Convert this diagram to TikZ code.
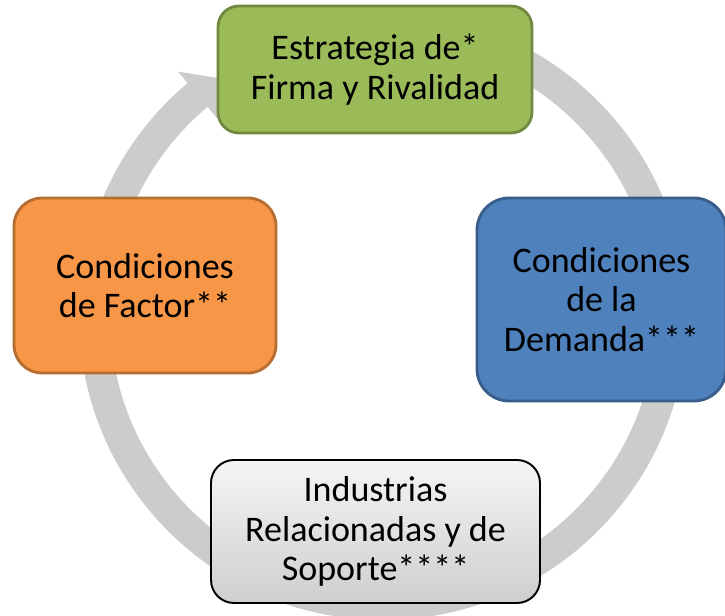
\documentclass[tikz,border=0pt]{standalone}
\usepackage{fontspec}
\setmainfont{Carlito}
\usetikzlibrary{calc}

\definecolor{ringgray}{HTML}{CCCCCC}
\definecolor{firmgreen}{HTML}{9BBB59}
\definecolor{firmgreenline}{HTML}{71893F}
\definecolor{demandblue}{HTML}{4F81BD}
\definecolor{demandblueline}{HTML}{385D8A}
\definecolor{factororange}{HTML}{F79646}
\definecolor{factororangeline}{HTML}{B66D31}

\tikzset{
	stagebox/.style={rectangle, rounded corners=#1, line width=1.6pt, align=center,
		inner sep=0pt, font=\fontsize{20.5}{22.5}\selectfont},
}

\begin{document}
\begin{tikzpicture}
	%%%%% START %%%%%
	
	\useasboundingbox (0, 0) rectangle (14.5, 12.3);
	\coordinate (ctr) at (7.66, 5.98);
	
	% cycle arrow
	\draw[line width=0.62cm, color=ringgray] ($(ctr)+(90:5.77)$) arc (90:-231:5.77);
	\fill[ringgray] ($(ctr)+(130:5.16)$) -- ($(ctr)+(130:6.38)$) -- ($(ctr)+(124.5:5.77)$) -- cycle;
	
	% stages
	\node[stagebox=0.42cm, fill=firmgreen, draw=firmgreenline, minimum width=6.28cm, minimum height=2.54cm]
		(estrategia) at (7.50, 10.91) {Estrategia de*\\Firma y Rivalidad};
	\node[stagebox=0.64cm, fill=demandblue, draw=demandblueline, minimum width=4.98cm, minimum height=4.06cm]
		(demanda) at (12.03, 6.31) {Condiciones\\de la\\Demanda***};
	\node[stagebox=0.56cm, fill=factororange, draw=factororangeline, minimum width=5.24cm, minimum height=3.50cm]
		(factor) at (2.90, 6.59) {Condiciones\\de Factor**};
	\node[stagebox=0.46cm, top color=gray!8, bottom color=gray!38, draw=black, line width=1.1pt,
		minimum width=6.58cm, minimum height=2.86cm]
		(soporte) at (7.51, 1.67) {Industrias\\Relacionadas y de\\Soporte****};
	
	%%%%% END %%%%%
\end{tikzpicture}
\end{document}
